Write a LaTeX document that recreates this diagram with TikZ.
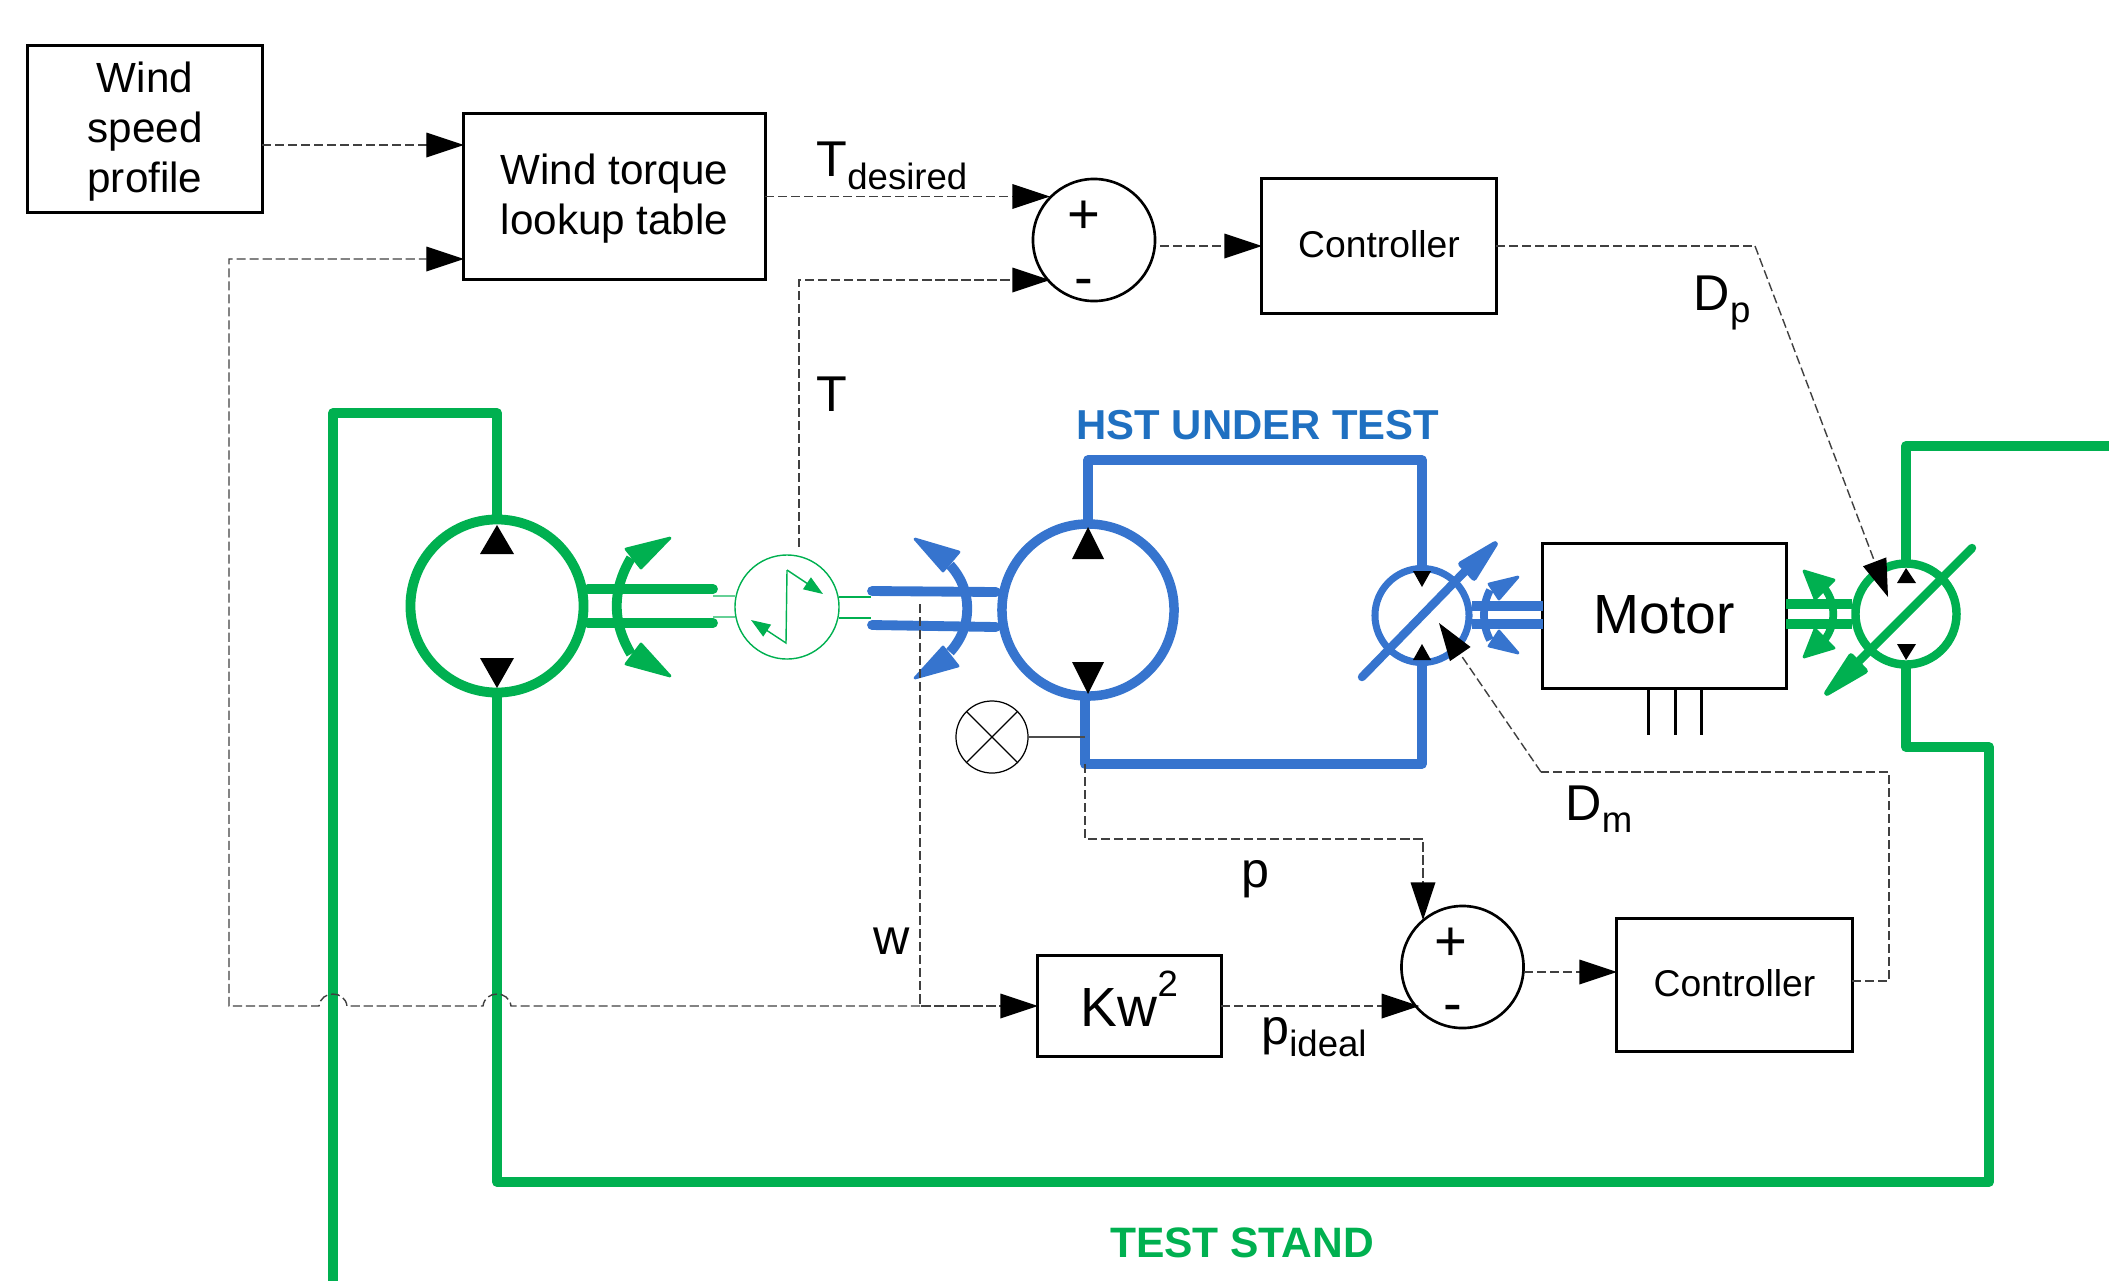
\documentclass[tikz,border=0pt]{standalone}
\usepackage{fontspec}
\setmainfont{Liberation Sans}
\usetikzlibrary{arrows.meta}
\definecolor{standgreen}{HTML}{00B050}
\definecolor{hstblue}{HTML}{3674CE}
\definecolor{hsttext}{HTML}{1F70C1}
\newcommand{\sublabel}[2]{#1\raisebox{-0.25em}{\fontsize{10.4}{12}\selectfont #2}}
\tikzset{
    block/.style = {draw, line width = 0.85pt, inner sep = 0pt, outer sep = 0pt, align = center, font = \fontsize{12}{14.2}\selectfont},
    sumring/.style = {draw, circle, line width = 0.75pt, minimum size = 1.22cm, inner sep = 0pt, outer sep = 0pt},
    sign/.style = {inner sep = 0pt, font = \fontsize{16}{18}\selectfont},
    sig/.style = {draw = black!75, line width = 0.4pt, dash pattern = on 2.6pt off 1.1pt},
    sigarrow/.style = {sig, -{Triangle[length = 10.7pt, width = 7pt, black]}},
    word/.style = {inner sep = 0pt, font = \fontsize{14.3}{16}\selectfont},
    greenpipe/.style = {draw = standgreen, line width = 2.8pt, line join = round},
    bluepipe/.style = {draw = hstblue, line width = 2.7pt, line join = round},
    greenhead/.style = {draw = standgreen, fill = standgreen, line width = 0.8pt, line join = round},
    bluehead/.style = {draw = hstblue, fill = hstblue, line width = 0.8pt, line join = round},
    ringbig/.style = {draw, circle, inner sep = 0pt, outer sep = 0pt, minimum size = 1.73cm},
    ringsmall/.style = {draw, circle, inner sep = 0pt, outer sep = 0pt, line width = 2pt, minimum size = 0.94cm}
}
\begin{document}
\begin{tikzpicture}[x = 0.01cm, y = -0.01cm]%
    \useasboundingbox (0, 0) rectangle (2109, 1281);
    % blocks
    \node[block, minimum width = 2.34cm, minimum height = 1.66cm] (windspeed) at (145, 129) {\rule{0pt}{10.4pt}Wind\\speed\\profile};
    \node[block, minimum width = 3.01cm, minimum height = 1.65cm] (lookup) at (614.5, 196.5) {\rule{0pt}{9.7pt}Wind torque\\lookup table};
    \node[sumring] (sumT) at (1094, 240) {};
    \node[block, minimum width = 2.34cm, minimum height = 1.34cm, text depth = 1.4pt, font = \fontsize{10.6}{12}\selectfont] (ctrlT) at (1379, 246) {Controller};
    \node[block, minimum width = 2.43cm, minimum height = 1.45cm, text depth = 0.75pt, font = \fontsize{15.7}{18}\selectfont] (motor) at (1664.5, 616) {Motor};
    \node[block, minimum width = 1.83cm, minimum height = 1.00cm, text depth = 4pt, font = \fontsize{15.7}{18}\selectfont] (kw) at (1129.5, 1006) {Kw\raisebox{0.55em}{\fontsize{10.4}{12}\selectfont 2}};
    \node[sumring] (sumP) at (1462.5, 967) {};
    \node[block, minimum width = 2.35cm, minimum height = 1.33cm, text depth = 1.4pt, font = \fontsize{10.6}{12}\selectfont] (ctrlP) at (1734.5, 985) {Controller};
    \node[sign] (plusT) at (1084, 217) {+};
    \node[sign] (minusT) at (1084, 288) {-};
    \node[sign] (plusP) at (1451, 944) {+};
    \node[sign] (minusP) at (1453, 1014) {-};
    % machines
    \node[ringbig, draw = standgreen, line width = 2.8pt] (pumpL) at (497, 606) {};
    \node[ringbig, draw = hstblue, line width = 2.7pt, minimum size = 1.72cm] (pumpH) at (1088, 610) {};
    \node[ringsmall, draw = hstblue] (motorH) at (1422, 615.5) {};
    \node[ringsmall, draw = standgreen, line width = 2.4pt, minimum size = 1.01cm] (pumpR) at (1906, 614) {};
    \node[draw = standgreen, circle, line width = 0.4pt, minimum size = 1.04cm, inner sep = 0pt, outer sep = 0pt] (sensor) at (787, 607) {};
    \node[draw, circle, line width = 0.35pt, minimum size = 0.72cm, inner sep = 0pt, outer sep = 0pt] (gauge) at (992, 737) {};
    \draw[line width = 0.35pt] (gauge.45) -- (gauge.225) (gauge.135) -- (gauge.315);
    % green circuit
    \coordinate (greenA) at (497, 413);
    \coordinate (greenB) at (333, 413);
    \coordinate (greenC) at (333, 1281);
    \coordinate (greenD) at (497, 1182);
    \coordinate (greenE) at (1989, 1182);
    \coordinate (greenF) at (1989, 747);
    \coordinate (greenG) at (1906, 747);
    \coordinate (greenH) at (1906, 446);
    \coordinate (greenI) at (2109, 446);
    \draw[greenpipe] (pumpL.north) -- (greenA) -- (greenB) -- (greenC);
    \draw[greenpipe] (pumpL.south) -- (greenD) -- (greenE) -- (greenF) -- (greenG) -- (pumpR.south);
    \draw[greenpipe] (pumpR.north) -- (greenH) -- (greenI);
    % blue circuit
    \coordinate (blueA) at (1088, 460);
    \coordinate (blueB) at (1422, 460);
    \coordinate (blueC) at (1085, 764);
    \coordinate (blueD) at (1422, 764);
    \draw[bluepipe] (pumpH.north) -- (blueA) -- (blueB) -- (motorH.north);
    \draw[bluepipe] (pumpH.south -| blueC) -- (blueC) -- (blueD) -- (motorH.south);
    % shafts
    \draw[greenpipe, line cap = round] (588, 589) -- (713, 589) (588, 623) -- (713, 623);
    \draw[bluepipe, line width = 2.8pt, line cap = round] (872, 591) -- (996, 592) (872, 625) -- (996, 627);
    \draw[bluepipe, line width = 2.8pt] (motor.west |- 0, 606) -- (1472, 606) (motor.west |- 0, 624) -- (1472, 624);
    \draw[greenpipe, line width = 2.8pt] (motor.east |- 0, 604) -- (1852, 604) (motor.east |- 0, 624) -- (1852, 624);
    \draw[draw = standgreen!60, line width = 0.4pt] (713, 596) -- (sensor.west |- 0, 596) (713, 617) -- (sensor.west |- 0, 617);
    \draw[draw = standgreen, line width = 0.4pt] (839, 597) -- (871, 597) (839, 618) -- (871, 618);
    % rotation marks
    \draw[greenpipe] (631, 558) .. controls (612, 590) and (612, 622) .. (631, 654);
    \filldraw[greenhead] (670, 538) -- (626, 549) -- (641, 568) -- cycle;
    \filldraw[greenhead] (670, 676) -- (626, 664) -- (641, 644) -- cycle;
    \draw[bluepipe, line width = 2.8pt] (950, 565) .. controls (973, 590) and (973, 627) .. (950, 652);
    \filldraw[bluehead] (915, 539) -- (959, 552) -- (943, 571) -- cycle;
    \filldraw[bluehead] (915, 678) -- (958, 666) -- (943, 647) -- cycle;
    \draw[bluepipe, line width = 2.2pt] (1490, 590) .. controls (1482, 605) and (1482, 625) .. (1490, 640);
    \filldraw[bluehead] (1518, 577) -- (1489, 584) -- (1499, 599) -- cycle;
    \filldraw[bluehead] (1518, 653) -- (1489, 646) -- (1499, 631) -- cycle;
    \draw[greenpipe, line width = 2.2pt] (1822, 585) .. controls (1837, 602) and (1837, 626) .. (1822, 643);
    \filldraw[greenhead] (1804, 571) -- (1834, 580) -- (1815, 599) -- cycle;
    \filldraw[greenhead] (1804, 657) -- (1834, 648) -- (1815, 629) -- cycle;
    % variable displacement slashes
    \draw[bluepipe, line width = 2.4pt, line cap = round] (1362, 677) -- (1475, 561);
    \filldraw[bluehead, line width = 1.6pt] (1495, 544) -- (1461, 564) -- (1474, 578) -- cycle;
    \draw[greenpipe, line width = 2.4pt, line cap = round] (1972, 548) -- (1850, 670);
    \filldraw[greenhead, line width = 1.6pt] (1827, 693) -- (1851, 656) -- (1865, 671) -- cycle;
    % flow direction marks
    \fill (497, 525) -- (480, 554) -- (514, 554) -- cycle;
    \fill (497, 688) -- (480, 658) -- (514, 658) -- cycle;
    \fill (1088, 527) -- (1072, 559) -- (1104, 559) -- cycle;
    \fill (1088, 694) -- (1072, 662) -- (1104, 662) -- cycle;
    \fill (1422, 587) -- (1413, 571) -- (1431, 571) -- cycle;
    \fill (1422, 644) -- (1413, 660) -- (1431, 660) -- cycle;
    \fill (1906, 568) -- (1897, 583) -- (1916, 583) -- cycle;
    \fill (1906, 660) -- (1897, 644) -- (1916, 644) -- cycle;
    % sensor trace
    \draw[draw = standgreen, line width = 0.4pt, -{Triangle[length = 5.5pt, width = 4pt]}] (787, 570) -- (823, 594);
    \draw[draw = standgreen, line width = 0.4pt, -{Triangle[length = 5.5pt, width = 4pt]}] (787, 570) -- (786, 643) -- (751, 620);
    % motor leads
    \foreach \leadx in {1648, 1675, 1701}
        \draw[line width = 0.85pt] (\leadx, 689) -- (\leadx, 735);
    % signals
    \coordinate (ttap) at (799, 547);
    \coordinate (ttip) at (1050, 280);
    \coordinate (wtap) at (920, 604);
    \coordinate (wjoin) at (920, 1006);
    \coordinate (dpbend) at (1755, 246);
    \coordinate (dptip) at (1888, 597);
    \coordinate (dmtip) at (1439, 623);
    \coordinate (dmbend) at (1541, 772);
    \coordinate (dmcorner) at (1889, 772);
    \coordinate (dmdrop) at (1889, 981);
    \coordinate (wleft) at (229, 1006);
    \coordinate (wup) at (229, 259);
    \coordinate (ptap) at (1085, 764);
    \coordinate (pside) at (1085, 839);
    \coordinate (ptop) at (1423, 839);
    \coordinate (sumTout) at (1160, 246);
    \draw[sigarrow] (windspeed.east |- 0, 145) -- (lookup.west |- 0, 145);
    \draw[sigarrow] (lookup.east) -- (lookup.east -| ttip);
    \draw[sigarrow] (ttap) |- (ttip);
    \draw[sigarrow] (sumTout) -- (ctrlT.west);
    \draw[sig] (ctrlT.east) -- (dpbend);
    \draw[sigarrow] (dpbend) -- (dptip);
    \draw[sigarrow] (wtap) -- (wjoin) -- (kw.west);
    \draw[sigarrow] (wjoin) -- (511, 1006) .. controls (509, 990) and (485, 990) .. (483, 1006) -- (347, 1006) .. controls (345, 990) and (321, 990) .. (319, 1006) -- (wleft) -- (wup) -- (lookup.west |- wup);
    \draw[sigarrow] (ptap) -- (pside) -- (ptop) -- (1423, 920);
    \draw[sigarrow] (kw.east) -- (kw.east -| sumP.225);
    \draw[sigarrow] (1524, 972) -- (ctrlP.west |- 0, 972);
    \draw[sig] (ctrlP.east |- 0, 981) -- (dmdrop) -- (dmcorner) -- (dmbend);
    \draw[sigarrow] (dmbend) -- (dmtip);
    \draw[draw = black!70, line width = 0.35pt] (gauge.east) -- (blueC |- gauge.east);
    % labels
    \node[word] (tdes) at (892, 166) {\sublabel{T}{desired}};
    \node[word] (tlab) at (832, 394) {T};
    \node[word] (dplab) at (1722, 303) {\sublabel{D}{p}};
    \node[word] (dmlab) at (1599, 809) {\sublabel{D}{m}};
    \node[word] (plab) at (1255, 879) {p};
    \node[word] (wlab) at (892, 941) {w};
    \node[word] (pideal) at (1314, 1037) {\sublabel{p}{ideal}};
    \node[inner sep = 0pt, text = hsttext, font = \fontsize{11.9}{14}\bfseries\selectfont] (hstlab) at (1258, 425) {HST UNDER TEST};
    \node[inner sep = 0pt, text = standgreen, font = \fontsize{12.1}{14}\bfseries\selectfont] (standlab) at (1242, 1243) {TEST STAND};
\end{tikzpicture}
\end{document}
